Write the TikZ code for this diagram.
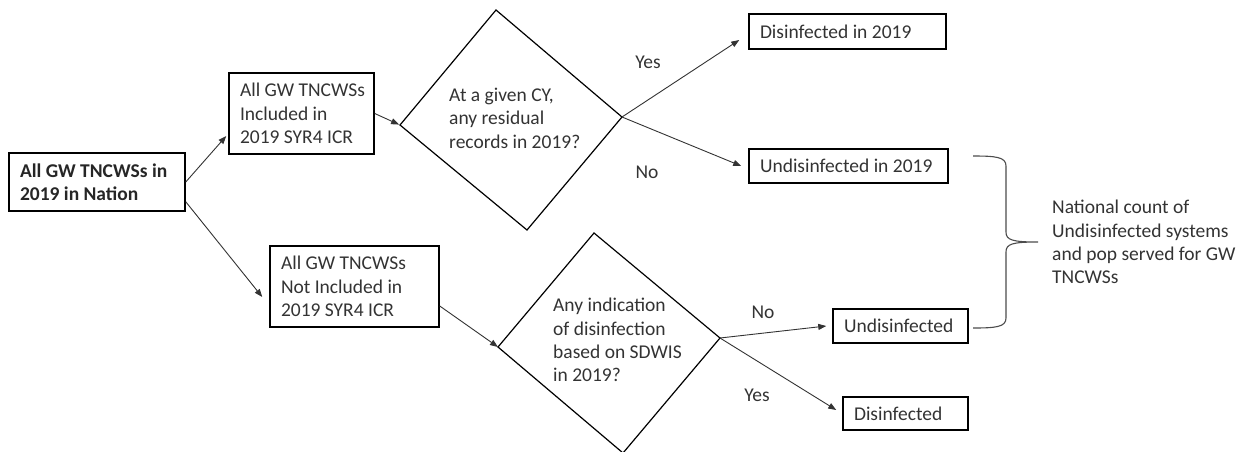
\documentclass[tikz,border=0pt]{standalone}
\usepackage{fontspec}
\setmainfont{Carlito}
\usetikzlibrary{arrows.meta,calc}
\newcommand\myfs{\fontsize{19.5}{23.4}\selectfont}
\begin{document}
\begin{tikzpicture}[x=1pt,y=-1pt,
  every node/.style={font=\myfs, text=black!80},
  box/.style={draw=black, line width=1.5pt, rectangle, inner xsep=11pt, inner ysep=0pt, align=left,
    execute at begin node={\spaceskip=0pt\xspaceskip=0pt\relax}},
  conn/.style={draw=black!80, line width=0.9pt, -{Triangle[length=8pt,width=6pt]}},
  dia/.style={draw=black, line width=1.2pt},
  brace/.style={draw=black!70, line width=1.1pt},
  txt/.style={anchor=west, align=left, inner sep=0pt},
  lbl/.style={inner sep=0pt}]
\useasboundingbox (0,0) rectangle (1243,451);

% boxes
\node[box, minimum width=176pt, minimum height=58pt, text width=154pt, font=\myfs\bfseries, text=black!85] (A) at (97,182) {\mbox{All GW TNCWSs in}\\\mbox{2019 in Nation}};
\node[box, minimum width=145pt, minimum height=81pt, text width=123pt] (B) at (301.5,113.5) {\mbox{All GW TNCWSs}\\\mbox{Included in}\\\mbox{2019 SYR4 ICR}};
\node[box, minimum width=169pt, minimum height=81pt, text width=147pt] (C) at (354.5,286.5) {\mbox{All GW TNCWSs}\\\mbox{Not Included in}\\\mbox{2019 SYR4 ICR}};
\node[box, minimum width=197pt, minimum height=35pt, text width=175pt] (D1) at (847.5,31.5) {\mbox{Disinfected in 2019}};
\node[box, minimum width=199pt, minimum height=34pt, text width=177pt] (U1) at (848.5,166) {\mbox{Undisinfected in 2019}};
\node[box, minimum width=135pt, minimum height=34pt, text width=113pt] (U2) at (900.5,326) {\mbox{Undisinfected}};
\node[box, minimum width=125pt, minimum height=33pt, text width=103pt] (D2) at (905.5,413.5) {\mbox{Disinfected}};

% diamonds
\coordinate (d1l) at (400,125);
\coordinate (d1t) at (496,10);
\coordinate (d1r) at (622,117);
\coordinate (d1b) at (527,230);
\draw[dia] (d1l) -- (d1t) -- (d1r) -- (d1b) -- cycle;
\node[txt] (q1) at (449,118) {At a given CY,\\any residual\\records in 2019?};

\coordinate (d2l) at (498,347);
\coordinate (d2t) at (594,233);
\coordinate (d2r) at (720,338);
\coordinate (d2b) at (623,453);
\draw[dia] (d2l) -- (d2t) -- (d2r) -- (d2b) -- cycle;
\node[txt] (q2) at (553,340) {Any indication\\of disinfection\\based on SDWIS\\in 2019?};

% connectors
\draw[conn] (A.east) -- ([xshift=-2pt,yshift=-22.5pt]B.west);
\draw[conn] ([yshift=10pt]A.south east) -- ([xshift=-7pt,yshift=-10.5pt]C.west);
\draw[conn, shorten >=1pt] (B.east) -- (d1l);
\draw[conn] ([yshift=-19.5pt]C.east) -- (d2l);
\draw[conn] (d1r) -- ([xshift=-9pt,yshift=-8.5pt]D1.west);
\draw[conn] (d1r) -- ([xshift=-7pt]U1.west);
\draw[conn] (d2r) -- ([xshift=-6pt]U2.west);
\draw[conn] (d2r) -- ([xshift=-6pt,yshift=3.5pt]D2.west);

% labels
\node[lbl] (y1) at (648,62) {Yes};
\node[lbl] (n1) at (647,172) {No};
\node[lbl] (n2) at (763,312) {No};
\node[lbl] (y2) at (757,395) {Yes};

% brace
\coordinate (bt) at (1038,242);
\draw[brace] (973,156) .. controls (996,156) and (1006,157) .. (1006,166) -- (1006,232) .. controls (1006,240) and (1012,242) .. (bt) .. controls (1012,242) and (1006,244) .. (1006,252) -- (1006,318) .. controls (1006,327) and (996,328) .. (973,328);
\node[txt] (N) at (1052,242) {National count of\\Undisinfected systems\\and pop served for GW\\TNCWSs};
\end{tikzpicture}
\end{document}
